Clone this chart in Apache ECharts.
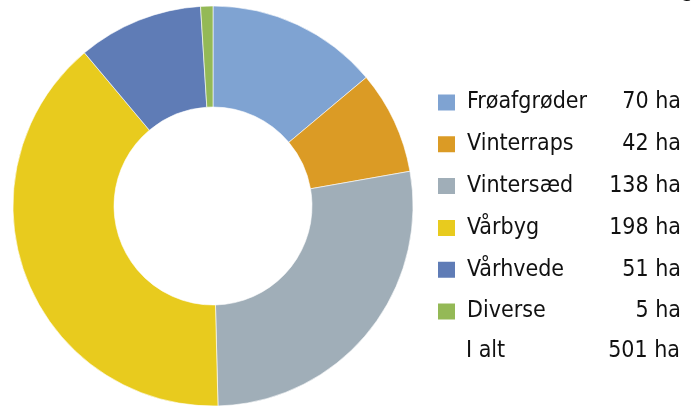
<!DOCTYPE html>
<html>
<head>
<meta charset="utf-8">
<script src="https://cdn.jsdelivr.net/npm/echarts@6/dist/echarts.min.js"></script>
<style>
  html, body { margin: 0; padding: 0; background: #fff; }
  #chart { width: 698px; height: 407px; }
</style>
</head>
<body>
<div id="chart"></div>
<script>
// afgrøder og areal i ha
const crops = ['Frøafgrøder', 'Vinterraps', 'Vintersæd', 'Vårbyg', 'Vårhvede', 'Diverse'];
const hectares = [70, 42, 138, 198, 51, 5];
const cropColors = ['#7FA3D2', '#DB9B25', '#A0AEB8', '#E8CB1E', '#5F7CB6', '#94B956'];
const totalLabel = 'I alt';
const totalHa = 501;

const font = '"Liberation Sans Narrow", "DejaVu Sans Condensed", sans-serif';

const chart = echarts.init(document.getElementById('chart'));

chart.setOption({
  animation: false,
  color: cropColors,
  legend: {
    orient: 'vertical',
    left: 436,
    top: 91,
    padding: 0,
    icon: 'rect',
    itemWidth: 19,
    itemHeight: 18,
    itemGap: 18.8,
    selectedMode: false,
    data: crops,
    formatter: (name) => {
      const v = hectares[crops.indexOf(name)];
      return '{n|' + name + '}{v|' + v + ' ha}';
    },
    textStyle: {
      fontFamily: font,
      fontSize: 23,
      color: '#111',
      rich: {
        n: { width: 140, padding: [0, 0, 0, 6], fontFamily: font, fontSize: 23, lineHeight: 24, color: '#111' },
        v: { width: 74, align: 'right', fontFamily: font, fontSize: 23, lineHeight: 24, color: '#111' },
      },
    },
  },
  graphic: [
    {
      type: 'text',
      left: 466,
      top: 340,
      style: { text: totalLabel, font: '23px ' + font, fill: '#111' },
    },
    {
      type: 'text',
      right: 18,
      top: 340,
      style: { text: totalHa + ' ha', font: '23px ' + font, fill: '#111', align: 'right' },
    },
    // rest af overskriften, skåret af i toppen
    {
      type: 'text',
      left: 681,
      top: -21,
      style: { text: 'g', font: '23px ' + font, fill: '#111' },
    },
  ],
  series: [
    {
      type: 'pie',
      center: [213, 206],
      radius: [99, 200],
      startAngle: 90,
      clockwise: true,
      label: { show: false },
      labelLine: { show: false },
      emphasis: { disabled: true },
      itemStyle: { borderColor: '#fff', borderWidth: 0.6 },
      data: crops.map((c, i) => ({ name: c, value: hectares[i] })),
    },
  ],
});
</script>
</body>
</html>
